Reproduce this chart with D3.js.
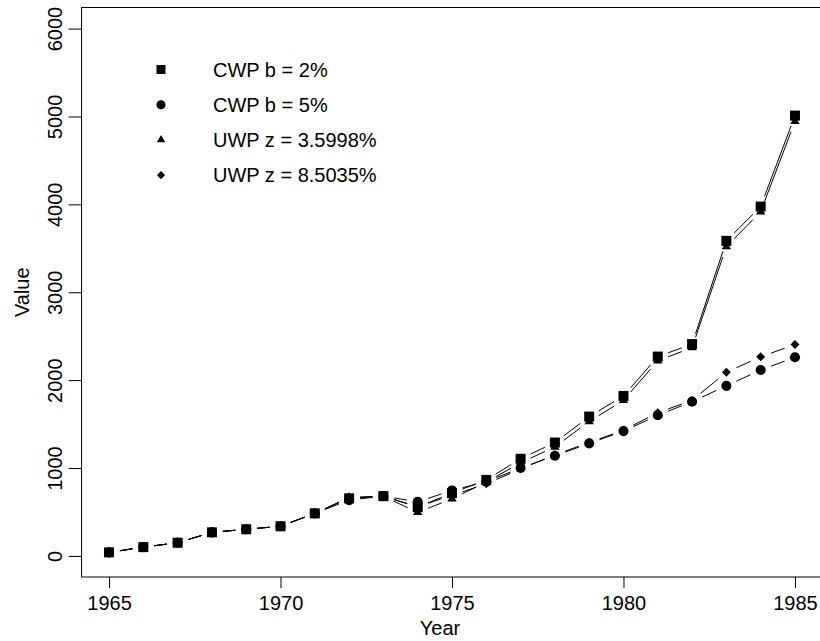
<!DOCTYPE html>
<html>
<head>
<meta charset="utf-8">
<script src="https://cdn.jsdelivr.net/npm/d3@7"></script>
<style>
  body { margin: 0; background: #fff; }
  svg { display: block; font-family: "Liberation Sans", Arial, sans-serif; }
</style>
</head>
<body>
<svg class="chart"></svg>
<script>
// values
const years = d3.range(1965, 1986)

const cwp2  = [40, 100, 150, 268, 303, 337, 484, 655, 680, 555, 715, 865, 1105, 1290, 1585, 1820, 2268, 2410, 3585, 3975, 5010]
const cwp5  = [40, 100, 150, 268, 303, 337, 484, 635, 680, 615, 745, 845, 1000, 1140, 1280, 1420, 1600, 1755, 1935, 2115, 2260]
const uwp36 = [40, 100, 150, 268, 303, 337, 484, 665, 678, 495, 650, 840, 1060, 1240, 1530, 1770, 2220, 2370, 3520, 3915, 4945]
const uwp85 = [40, 100, 150, 268, 303, 337, 484, 662, 678, 560, 690, 820, 990, 1150, 1290, 1430, 1630, 1770, 2090, 2265, 2405]

const seriesNames = ['CWP b = 2%', 'CWP b = 5%', 'UWP z = 3.5998%', 'UWP z = 8.5035%']
const seriesValues = [cwp2, cwp5, uwp36, uwp85]
const seriesShapes = ['square', 'circle', 'triangle', 'diamond']

const xTicks = [1965, 1970, 1975, 1980, 1985]
const yTicks = [0, 1000, 2000, 3000, 4000, 5000, 6000]

const drawChart = () => {

    const width = 820
    const height = 641
    const fontSize = 20

    const svg = d3.select('.chart')
        .attr('width', width)
        .attr('height', height)

    // R style: axes extended 4% past the data range
    const x = d3.scaleLinear()
        .domain([1964.2, 1985.8])
        .range([81.6, 822.4])

    const y = d3.scaleLinear()
        .domain([-240, 6240])
        .range([577, 7.5])

    const [x0, x1] = x.range()
    const [y0, y1] = y.range()

    // x axis
    const xAxis = svg.append('g')
        .attr('transform', `translate(0,${y0})`)
        .call(d3.axisBottom(x).tickValues(xTicks).tickFormat(d3.format('d')).tickSize(11).tickSizeOuter(0))

    xAxis.select('.domain').remove()
    xAxis.selectAll('line').attr('stroke', '#000')
    xAxis.selectAll('text')
        .attr('y', 33)
        .attr('dy', 0)
        .attr('fill', '#000')
        .style('font-size', fontSize + 'px')
        .style('font-family', '"Liberation Sans", Arial, sans-serif')

    // y axis, labels rotated like R's default
    const yAxis = svg.append('g')
        .attr('transform', `translate(${x0},0)`)
        .call(d3.axisLeft(y).tickValues(yTicks).tickFormat(d3.format('d')).tickSize(13).tickSizeOuter(0))

    yAxis.select('.domain').remove()
    yAxis.selectAll('line').attr('stroke', '#000')
    yAxis.selectAll('text')
        .attr('transform', 'rotate(-90)')
        .attr('x', 0)
        .attr('y', -20)
        .attr('dy', 0)
        .attr('text-anchor', 'middle')
        .attr('fill', '#000')
        .style('font-size', fontSize + 'px')
        .style('font-family', '"Liberation Sans", Arial, sans-serif')

    // plot box
    svg.append('rect')
        .attr('x', x0)
        .attr('y', y1)
        .attr('width', x1 - x0)
        .attr('height', y0 - y1)
        .attr('fill', 'none')
        .attr('stroke', '#000')
        .attr('stroke-width', 1)

    // axis titles
    svg.append('text')
        .attr('x', (x0 + x1) / 2 - 12)
        .attr('y', 635)
        .attr('text-anchor', 'middle')
        .style('font-size', fontSize + 'px')
        .text('Year')

    svg.append('text')
        .attr('transform', `translate(29,${(y0 + y1) / 2}) rotate(-90)`)
        .attr('text-anchor', 'middle')
        .style('font-size', fontSize + 'px')
        .text('Value')

    // symbol generators matching R's pch 15, 16, 17, 18
    const symbolPath = shape => {
        if (shape === 'square') return d3.symbol(d3.symbolSquare, 100)()
        if (shape === 'circle') return d3.symbol(d3.symbolCircle, 80)()
        if (shape === 'triangle') return d3.symbol(d3.symbolTriangle, 38)()
        return d3.symbol(d3.symbolSquare, 40)()
    }
    const symbolRotate = shape => shape === 'diamond' ? ' rotate(45)' : ''

    // type = "b": segments with gaps around each point
    const gap = 11
    const plotArea = svg.append('g')

    seriesValues.forEach((values, i) => {
        const pts = years.map((yr, j) => [x(yr), y(values[j])])

        const segs = []
        for (let j = 0; j < pts.length - 1; j++) {
            const [ax, ay] = pts[j]
            const [bx, by] = pts[j + 1]
            const len = Math.hypot(bx - ax, by - ay)
            if (len <= 2 * gap) continue
            const ux = (bx - ax) / len
            const uy = (by - ay) / len
            segs.push([ax + ux * gap, ay + uy * gap, bx - ux * gap, by - uy * gap])
        }

        plotArea.append('g')
            .selectAll('line')
            .data(segs)
            .join('line')
            .attr('x1', d => d[0])
            .attr('y1', d => d[1])
            .attr('x2', d => d[2])
            .attr('y2', d => d[3])
            .attr('stroke', '#000')
            .attr('stroke-width', 1)

        plotArea.append('g')
            .selectAll('path')
            .data(pts)
            .join('path')
            .attr('d', symbolPath(seriesShapes[i]))
            .attr('transform', d => `translate(${d[0]},${d[1]})${symbolRotate(seriesShapes[i])}`)
            .attr('fill', '#000')
    })

    // legend, no frame
    const legend = svg.append('g')
        .attr('transform', 'translate(161,69.5)')

    const rows = legend.selectAll('g')
        .data(seriesNames)
        .join('g')
        .attr('transform', (d, i) => `translate(0,${i * 35.2})`)

    rows.append('path')
        .attr('d', (d, i) => symbolPath(seriesShapes[i]))
        .attr('transform', (d, i) => `scale(0.9)${symbolRotate(seriesShapes[i])}`)
        .attr('fill', '#000')

    rows.append('text')
        .attr('x', 52)
        .attr('y', 7)
        .style('font-size', fontSize + 'px')
        .text(d => d)
}

drawChart()
</script>
</body>
</html>
